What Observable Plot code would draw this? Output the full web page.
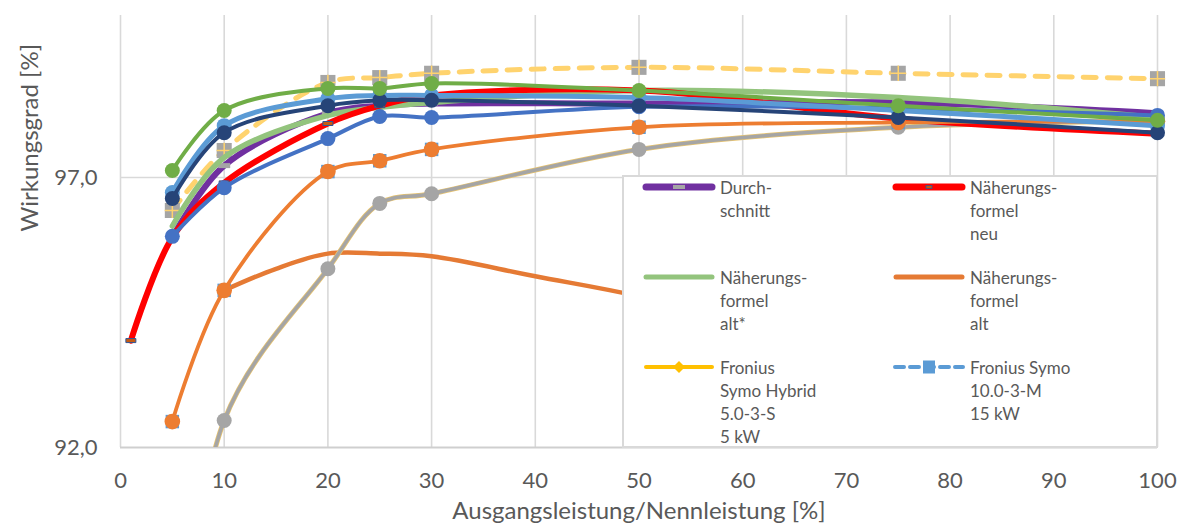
<!DOCTYPE html>
<html>
<head>
<meta charset="utf-8">
<script src="https://cdn.jsdelivr.net/npm/d3@7"></script>
<script src="https://cdn.jsdelivr.net/npm/@observablehq/plot@0.6"></script>
<style>
  html, body { margin: 0; padding: 0; background: #fff; }
  #wrap { position: relative; width: 1177px; height: 528px; overflow: hidden; }
  #legend { position: absolute; left: 0; top: 0; pointer-events: none; }
</style>
</head>
<body>
<div id="wrap"></div>
<script>
// ---- Data ----
const loads = [5, 10, 20, 25, 30, 50, 75, 100];

const seriesGreen     = [97.13, 98.24, 98.65, 98.65, 98.74, 98.61, 98.33, 98.06];
const seriesLightBlue = [96.72, 97.96, 98.46, 98.52, 98.52, 98.48, 98.24, 97.96];
const seriesNavy      = [96.61, 97.83, 98.33, 98.43, 98.43, 98.33, 98.11, 97.83];
const seriesBlue      = [95.91, 96.81, 97.72, 98.13, 98.11, 98.31, 98.28, 98.15];
const seriesOrange    = [92.48, 94.91, 97.11, 97.31, 97.52, 97.93, 98.02, 98.04];
const seriesDashed    = [96.39, 97.50, 98.76, 98.85, 98.93, 99.04, 98.93, 98.83];
const seriesPurple    = [95.89, 97.22, 98.19, 98.33, 98.37, 98.37, 98.39, 98.19];
const seriesLightGreen= [96.10, 97.37, 98.15, 98.30, 98.39, 98.61, 98.48, 98.11];

const grayLoads  = [5, 10, 20, 25, 30, 50, 75, 100];
const seriesGray = [86.0, 92.50, 95.31, 96.52, 96.70, 97.52, 97.93, 98.04];

const redLoads  = [1, 5, 10, 20, 25, 30, 50, 75, 100];
const seriesRed = [93.98, 95.89, 96.90, 98.00, 98.33, 98.52, 98.61, 98.09, 97.81];

const altLoads  = [10, 15, 20, 25, 30, 40, 50, 75, 100];
const seriesAlt = [94.91, 95.31, 95.59, 95.59, 95.54, 95.17, 94.80, 93.60, 92.00];

const xTicks = [0, 10, 20, 30, 40, 50, 60, 70, 80, 90, 100];
const yTicks = [92, 97];

const legendLabels = [
  ["Durch-", "schnitt"],
  ["Näherungs-", "formel", "neu"],
  ["Näherungs-", "formel", "alt*"],
  ["Näherungs-", "formel", "alt"],
  ["Fronius", "Symo Hybrid", "5.0-3-S", "5 kW"],
  ["Fronius Symo", "10.0-3-M", "15 kW"]
];

// ---- helpers ----
const toRows = (xs, ys) => xs.map((x, i) => ({x, y: ys[i]}));
const inDomain = rows => rows.filter(d => d.y >= 92 && d.y <= 100);

const green = toRows(loads, seriesGreen);
const lightBlue = toRows(loads, seriesLightBlue);
const navy = toRows(loads, seriesNavy);
const blue = toRows(loads, seriesBlue);
const orange = toRows(loads, seriesOrange);
const dashed = toRows(loads, seriesDashed);
const purple = toRows(loads, seriesPurple);
const lightGreen = toRows(loads, seriesLightGreen);
const gray = toRows(grayLoads, seriesGray);
const red = toRows(redLoads, seriesRed);
const alt = toRows(altLoads, seriesAlt);

const barSymbol = {draw(ctx) { ctx.rect(-6, -2.5, 12, 5); }};
const smallBar = {draw(ctx) { ctx.rect(-5, -2, 10, 4); }};

const curve = "catmull-rom";
const L = (data, opts) => Plot.line(data, {x: "x", y: "y", curve, clip: true, strokeLinecap: "round", strokeLinejoin: "round", ...opts});
const D = (data, opts) => Plot.dot(inDomain(data), {x: "x", y: "y", ...opts});

const chart = Plot.plot({
  width: 1177,
  height: 528,
  marginLeft: 120,
  marginRight: 20,
  marginTop: 15,
  marginBottom: 81,
  style: {fontFamily: "Lato, 'Open Sans', sans-serif", color: "#595959", background: "#fff"},
  x: {domain: [0, 100]},
  y: {domain: [92, 100]},
  marks: [
    Plot.gridX(xTicks, {stroke: "#D9D9D9", strokeOpacity: 1, strokeWidth: 1.6}),
    Plot.gridY([97], {stroke: "#D9D9D9", strokeOpacity: 1, strokeWidth: 1.6}),
    Plot.ruleY([92], {stroke: "#CFCFCF", strokeWidth: 2}),
    Plot.axisX({ticks: xTicks, tickSize: 0, tickPadding: 25, fontSize: 22, fill: "#595959", label: null}),
    Plot.axisY({ticks: yTicks, tickSize: 0, tickPadding: 23, fontSize: 22, fill: "#595959", label: null,
                tickFormat: d => d.toFixed(1).replace(".", ",")}),
    Plot.text(["Ausgangsleistung/Nennleistung [%]"], {frameAnchor: "bottom", dy: 71, fontSize: 24, fill: "#595959"}),
    Plot.text(["Wirkungsgrad [%]"], {frameAnchor: "left", dx: -90, rotate: -90, fontSize: 24, fill: "#595959"}),

    // Näherungsformel alt (smooth, no markers)
    L(alt, {stroke: "#E57A34", strokeWidth: 4.5}),
    // Fronius Symo Hybrid (gold, under gray)
    L(gray, {stroke: "#E8C470", strokeWidth: 5}),
    L(gray, {stroke: "#A5A5A5", strokeWidth: 3.5}),
    D(gray, {r: 7.5, fill: "#A5A5A5"}),
    // dashed light yellow series
    L(dashed, {stroke: "#FFD36E", strokeWidth: 5, strokeDasharray: "13,11"}),
    D(dashed, {symbol: "square", r: 8.5, fill: "#A5A5A5"}),
    D(dashed, {symbol: "plus", r: 5, stroke: "#FFD36E", strokeWidth: 1.5}),
    // Durchschnitt
    L(purple, {stroke: "#7030A0", strokeWidth: 6}),
    D(purple, {symbol: barSymbol, fill: "#A5A5A5"}),
    // Näherungsformel alt*
    L(lightGreen, {stroke: "#93C47D", strokeWidth: 5.5}),
    // Näherungsformel neu
    L(red, {stroke: "#FF0000", strokeWidth: 6}),
    D(red, {symbol: smallBar, fill: "#C55A11", stroke: "#2F5597", strokeWidth: 1}),
    // Fronius Symo 10 markers hidden behind orange
    D(orange, {symbol: "square", r: 7.6, fill: "#5B9BD5"}),
    L(orange, {stroke: "#ED7D31", strokeWidth: 3.8}),
    D(orange, {r: 7.8, fill: "#ED7D31"}),
    // blue
    L(blue, {stroke: "#4472C4", strokeWidth: 4}),
    D(blue, {r: 7.5, fill: "#4472C4"}),
    // light blue
    L(lightBlue, {stroke: "#5B9BD5", strokeWidth: 5}),
    D(lightBlue, {r: 7.5, fill: "#5B9BD5"}),
    // navy
    L(navy, {stroke: "#264478", strokeWidth: 4}),
    D(navy, {r: 7.5, fill: "#264478"}),
    // green
    L(green, {stroke: "#70AD47", strokeWidth: 4}),
    D(green, {r: 7.5, fill: "#70AD47"})
  ]
});

const wrap = document.getElementById("wrap");
wrap.appendChild(chart);

// ---- Legend overlay (box inside the plot area) ----
const leg = d3.select(wrap).append("svg")
  .attr("id", "legend").attr("width", 1177).attr("height", 528)
  .style("font-family", "Lato, 'Open Sans', sans-serif");

leg.append("rect").attr("x", 623).attr("y", 176).attr("width", 534).attr("height", 271)
  .attr("fill", "#fff").attr("stroke", "#D9D9D9").attr("stroke-width", 2);

const colX = [643, 893];
const rowY = [187, 277, 367];
const swLen = 72;
const lineH = 23;

legendLabels.forEach((lines, i) => {
  const cx = colX[i % 2], cy = rowY[Math.floor(i / 2)];
  const g = leg.append("g");
  const mid = cx + swLen / 2;
  if (i === 0) {
    g.append("line").attr("x1", cx + 3).attr("x2", cx + swLen - 3).attr("y1", cy).attr("y2", cy)
      .attr("stroke", "#7030A0").attr("stroke-width", 7).attr("stroke-linecap", "round");
    g.append("rect").attr("x", mid - 6).attr("y", cy - 2).attr("width", 12).attr("height", 4).attr("fill", "#A5A5A5");
  } else if (i === 1) {
    g.append("line").attr("x1", cx + 3).attr("x2", cx + swLen - 3).attr("y1", cy).attr("y2", cy)
      .attr("stroke", "#FF0000").attr("stroke-width", 7).attr("stroke-linecap", "round");
    g.append("rect").attr("x", mid - 3).attr("y", cy - 1.5).attr("width", 6).attr("height", 3)
      .attr("fill", "#C55A11").attr("stroke", "#2F5597").attr("stroke-width", 0.8);
  } else if (i === 2) {
    g.append("line").attr("x1", cx + 3).attr("x2", cx + swLen - 3).attr("y1", cy).attr("y2", cy)
      .attr("stroke", "#93C47D").attr("stroke-width", 5).attr("stroke-linecap", "round");
  } else if (i === 3) {
    g.append("line").attr("x1", cx + 3).attr("x2", cx + swLen - 3).attr("y1", cy).attr("y2", cy)
      .attr("stroke", "#E57A34").attr("stroke-width", 5).attr("stroke-linecap", "round");
  } else if (i === 4) {
    g.append("line").attr("x1", cx + 3).attr("x2", cx + swLen - 3).attr("y1", cy).attr("y2", cy)
      .attr("stroke", "#FFC000").attr("stroke-width", 4).attr("stroke-linecap", "round");
    g.append("path").attr("d", `M${mid},${cy - 6}L${mid + 6},${cy}L${mid},${cy + 6}L${mid - 6},${cy}Z`).attr("fill", "#FFC000");
  } else {
    g.append("line").attr("x1", cx + 2).attr("x2", cx + swLen - 2).attr("y1", cy).attr("y2", cy)
      .attr("stroke", "#5B9BD5").attr("stroke-width", 4).attr("stroke-dasharray", "9,6").attr("stroke-linecap", "round");
    g.append("rect").attr("x", mid - 6).attr("y", cy - 6.5).attr("width", 12).attr("height", 13).attr("fill", "#5B9BD5");
  }
  lines.forEach((t, j) => {
    g.append("text").attr("x", cx + swLen + 5).attr("y", cy + j * lineH)
      .attr("dominant-baseline", "central").attr("font-size", 17).attr("fill", "#595959").text(t);
  });
});
</script>
</body>
</html>
